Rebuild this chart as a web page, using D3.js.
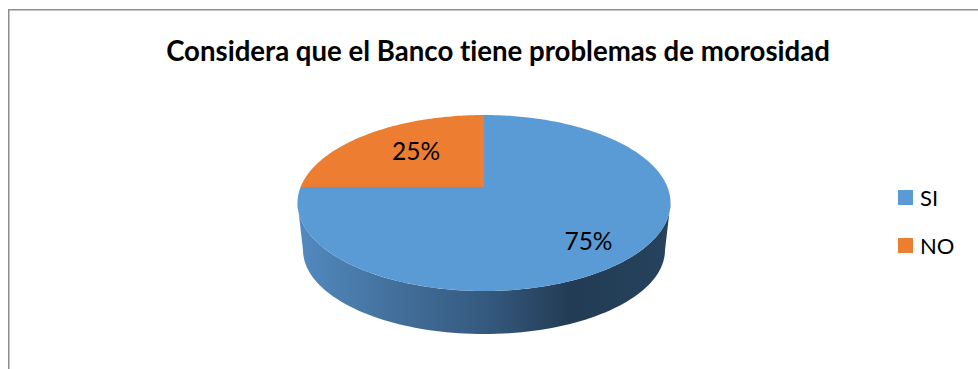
<!DOCTYPE html>
<html>
<head>
<meta charset="utf-8">
<script src="https://cdn.jsdelivr.net/npm/d3@7"></script>
<style>
  html, body { margin: 0; padding: 0; background: #fff; }
  svg { display: block; }
  text { font-family: Lato, "Open Sans", sans-serif; fill: #000; font-variant-ligatures: none; }
</style>
</head>
<body>
<svg id="chart" width="978" height="369"></svg>
<script>
const title = "Considera que el Banco tiene problemas de morosidad";
const categories = ["SI", "NO"];
const shares = [75, 25];
const sliceColors = ["#5b9bd5", "#ed7d31"];

const svg = d3.select("#chart");

// Frame: open at the right and bottom, where the chart area runs off the page
svg.append("path")
  .attr("d", "M8.75,369V9.75H978")
  .attr("fill", "none")
  .attr("stroke", "#8e8e8e")
  .attr("stroke-width", 1.5);

svg.append("text")
  .attr("x", 498).attr("y", 61)
  .attr("text-anchor", "middle")
  .attr("font-size", 27.6)
  .attr("font-weight", 700)
  .text(title);

// Tilted-disc projection: a point on the unit circle maps through a perspective
// divide, so the pie's centre sits above the middle of the drawn ellipse.
const apex = { x: 484, y: 187 };
const toFront = 104, toBack = 72, halfWidth = 183.4;
const persp = (toBack - toFront) / (toBack + toFront);
const depth = toFront * (1 + persp);
const project = (angle, r = 1) => {
  const ux = r * Math.sin(angle), uy = -r * Math.cos(angle);
  const w = 1 + persp * uy;
  return [apex.x + halfWidth * ux / w, apex.y + depth * uy / w];
};

const pie = d3.pie().sort(null).startAngle(0).endAngle(2 * Math.PI);
const arcs = pie(shares);
const line = d3.line();

// Side wall: bottom rim is a slightly narrower ellipse below the top face
const wallDrop = 43, wallInset = 5.5;
const rimCx = apex.x, topRy = (toFront + toBack) / 2, topRx = 186.5;
const topCy = apex.y + (toFront - toBack) / 2;
const lowerRx = topRx - wallInset, lowerRy = topRy - 4;
const lowerCy = topCy + topRy + wallDrop - lowerRy;

const defs = svg.append("defs");
const wallGrad = defs.append("linearGradient")
  .attr("id", "wall")
  .attr("gradientUnits", "userSpaceOnUse")
  .attr("x1", rimCx - topRx).attr("x2", rimCx + topRx)
  .attr("y1", 0).attr("y2", 0);
[[0, "#528ac0"], [0.27, "#426f9a"], [0.5, "#355a80"], [0.73, "#233c55"], [1, "#26425c"]]
  .forEach(([o, c]) => wallGrad.append("stop").attr("offset", o).attr("stop-color", c));

const sweep = d3.range(0, 181, 2).map(d => d * Math.PI / 180);
const wallPts = [
  ...sweep.map(a => [rimCx + topRx * Math.cos(a), topCy + topRy * Math.sin(a)]),
  ...sweep.slice().reverse().map(a => [rimCx + lowerRx * Math.cos(a), lowerCy + lowerRy * Math.sin(a)])
];
svg.append("path")
  .attr("d", line(wallPts) + "Z")
  .attr("fill", "url(#wall)");

// Top face slices, drawn from the pie layout through the projection
const slicePath = d => {
  const n = Math.max(8, Math.ceil((d.endAngle - d.startAngle) * 60));
  const pts = d3.range(n + 1).map(i =>
    project(d.startAngle + (d.endAngle - d.startAngle) * i / n));
  return line([[apex.x, apex.y], ...pts]) + "Z";
};
svg.append("g").selectAll("path")
  .data(arcs)
  .join("path")
  .attr("d", slicePath)
  .attr("fill", (d, i) => sliceColors[i]);

// Value labels at the mid-angle of each slice; larger slices sit further out
const labelPos = d => {
  const mid = (d.startAngle + d.endAngle) / 2;
  const frontSlice = Math.cos(mid) < 0;
  const [x, y] = project(mid, frontSlice ? 0.73 : 0.562);
  return [x, y + (frontSlice ? 5.5 : -4.5)];
};
svg.append("g").selectAll("text")
  .data(arcs)
  .join("text")
  .attr("text-anchor", "middle")
  .attr("dominant-baseline", "central")
  .attr("font-size", 24.5)
  .attr("x", d => labelPos(d)[0])
  .attr("y", d => labelPos(d)[1])
  .text(d => d.data + "%");

// Legend
const legendY = d3.scalePoint().domain(categories).range([197.5, 245.5]);
const legend = svg.append("g").selectAll("g")
  .data(categories)
  .join("g")
  .attr("transform", d => `translate(898,${legendY(d)})`);
legend.append("rect")
  .attr("x", 0).attr("y", -7.5)
  .attr("width", 15).attr("height", 15)
  .attr("fill", (d, i) => sliceColors[i]);
legend.append("text")
  .attr("x", 22).attr("y", 8)
  .attr("font-size", 22)
  .text(d => d);
</script>
</body>
</html>
